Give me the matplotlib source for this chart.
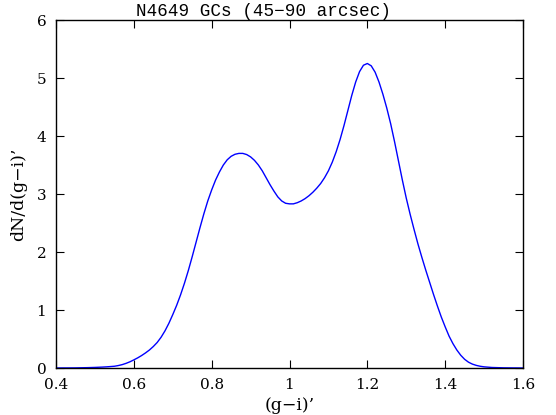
import numpy as np
import matplotlib
matplotlib.use("Agg")
import matplotlib.pyplot as plt

## data
g_i = [0.40, 0.45, 0.48, 0.50, 0.52, 0.53, 0.54,
       0.55, 0.56, 0.57, 0.58, 0.59, 0.60, 0.61, 0.62, 0.63, 0.64,
       0.65, 0.66, 0.67, 0.68, 0.69, 0.70, 0.71, 0.72, 0.73, 0.74,
       0.75, 0.76, 0.77, 0.78, 0.79, 0.80, 0.81, 0.82, 0.83, 0.84,
       0.85, 0.86, 0.87, 0.88, 0.89, 0.90, 0.91, 0.92, 0.93, 0.94,
       0.95, 0.96, 0.97, 0.98, 0.99, 1.00, 1.01, 1.02, 1.03, 1.04,
       1.05, 1.06, 1.07, 1.08, 1.09, 1.10, 1.11, 1.12, 1.13, 1.14,
       1.15, 1.16, 1.17, 1.18, 1.19, 1.20, 1.21, 1.22, 1.23, 1.24,
       1.25, 1.26, 1.27, 1.28, 1.29, 1.30, 1.31, 1.32, 1.33, 1.34,
       1.35, 1.36, 1.37, 1.38, 1.39, 1.40, 1.41, 1.42, 1.43, 1.44,
       1.45, 1.46, 1.47, 1.48, 1.49, 1.50, 1.52, 1.55, 1.60]
dn = [0.000, 0.002, 0.006, 0.010, 0.016, 0.020, 0.025,
      0.030, 0.042, 0.058, 0.080, 0.107, 0.140, 0.175, 0.215, 0.260, 0.310,
      0.370, 0.440, 0.530, 0.640, 0.770, 0.920, 1.080, 1.260, 1.460, 1.680,
      1.920, 2.170, 2.420, 2.660, 2.880, 3.070, 3.240, 3.380, 3.500, 3.590,
      3.650, 3.685, 3.700, 3.700, 3.680, 3.640, 3.580, 3.500, 3.400, 3.280,
      3.160, 3.050, 2.950, 2.880, 2.840, 2.830, 2.830, 2.850, 2.880, 2.920,
      2.970, 3.030, 3.100, 3.180, 3.280, 3.400, 3.550, 3.730, 3.940, 4.180,
      4.440, 4.700, 4.930, 5.110, 5.220, 5.250, 5.210, 5.100, 4.930, 4.720,
      4.480, 4.210, 3.900, 3.570, 3.240, 2.930, 2.650, 2.390, 2.140, 1.910,
      1.690, 1.480, 1.270, 1.070, 0.880, 0.710, 0.550, 0.420, 0.310, 0.220,
      0.150, 0.100, 0.067, 0.045, 0.030, 0.020, 0.009, 0.003, 0.000]

xticks = [0.4, 0.6, 0.8, 1.0, 1.2, 1.4, 1.6]
xticklabels = ["0.4", "0.6", "0.8", "1", "1.2", "1.4", "1.6"]
yticks = [0, 1, 2, 3, 4, 5, 6]

## figure
fig = plt.figure(figsize=(5.56, 4.15), dpi=100)
ax = fig.add_axes([56/556, 47/415, 467/556, 348/415])

ax.plot(g_i, dn, color="#0000ff", lw=1.0)

ax.set_xlim(0.4, 1.6)
ax.set_ylim(0, 6)
ax.set_xticks(xticks)
ax.set_xticklabels(xticklabels)
ax.set_yticks(yticks)

ax.tick_params(direction="in", length=6, width=0.8, top=True, right=True,
               labelsize=11, pad=7)
for lab in ax.get_xticklabels() + ax.get_yticklabels():
    lab.set_family("DejaVu Serif")
for s in ax.spines.values():
    s.set_linewidth(1.0)

ax.set_xlabel("(g\u2212i)\u2019", family="DejaVu Serif", fontsize=12.5, labelpad=4)
ax.set_ylabel("dN/d(g\u2212i)\u2019", family="DejaVu Serif", fontsize=12.5, labelpad=7)
# title sits a bit left of the axes centre in the original
ax.text(0.444, 1.0, "N4649 GCs (45\u221290 arcsec)", transform=ax.transAxes,
        ha="center", va="bottom", family=["Liberation Mono", "DejaVu Sans Mono"],
        fontsize=12.7)

fig.savefig("out.png", dpi=100)
